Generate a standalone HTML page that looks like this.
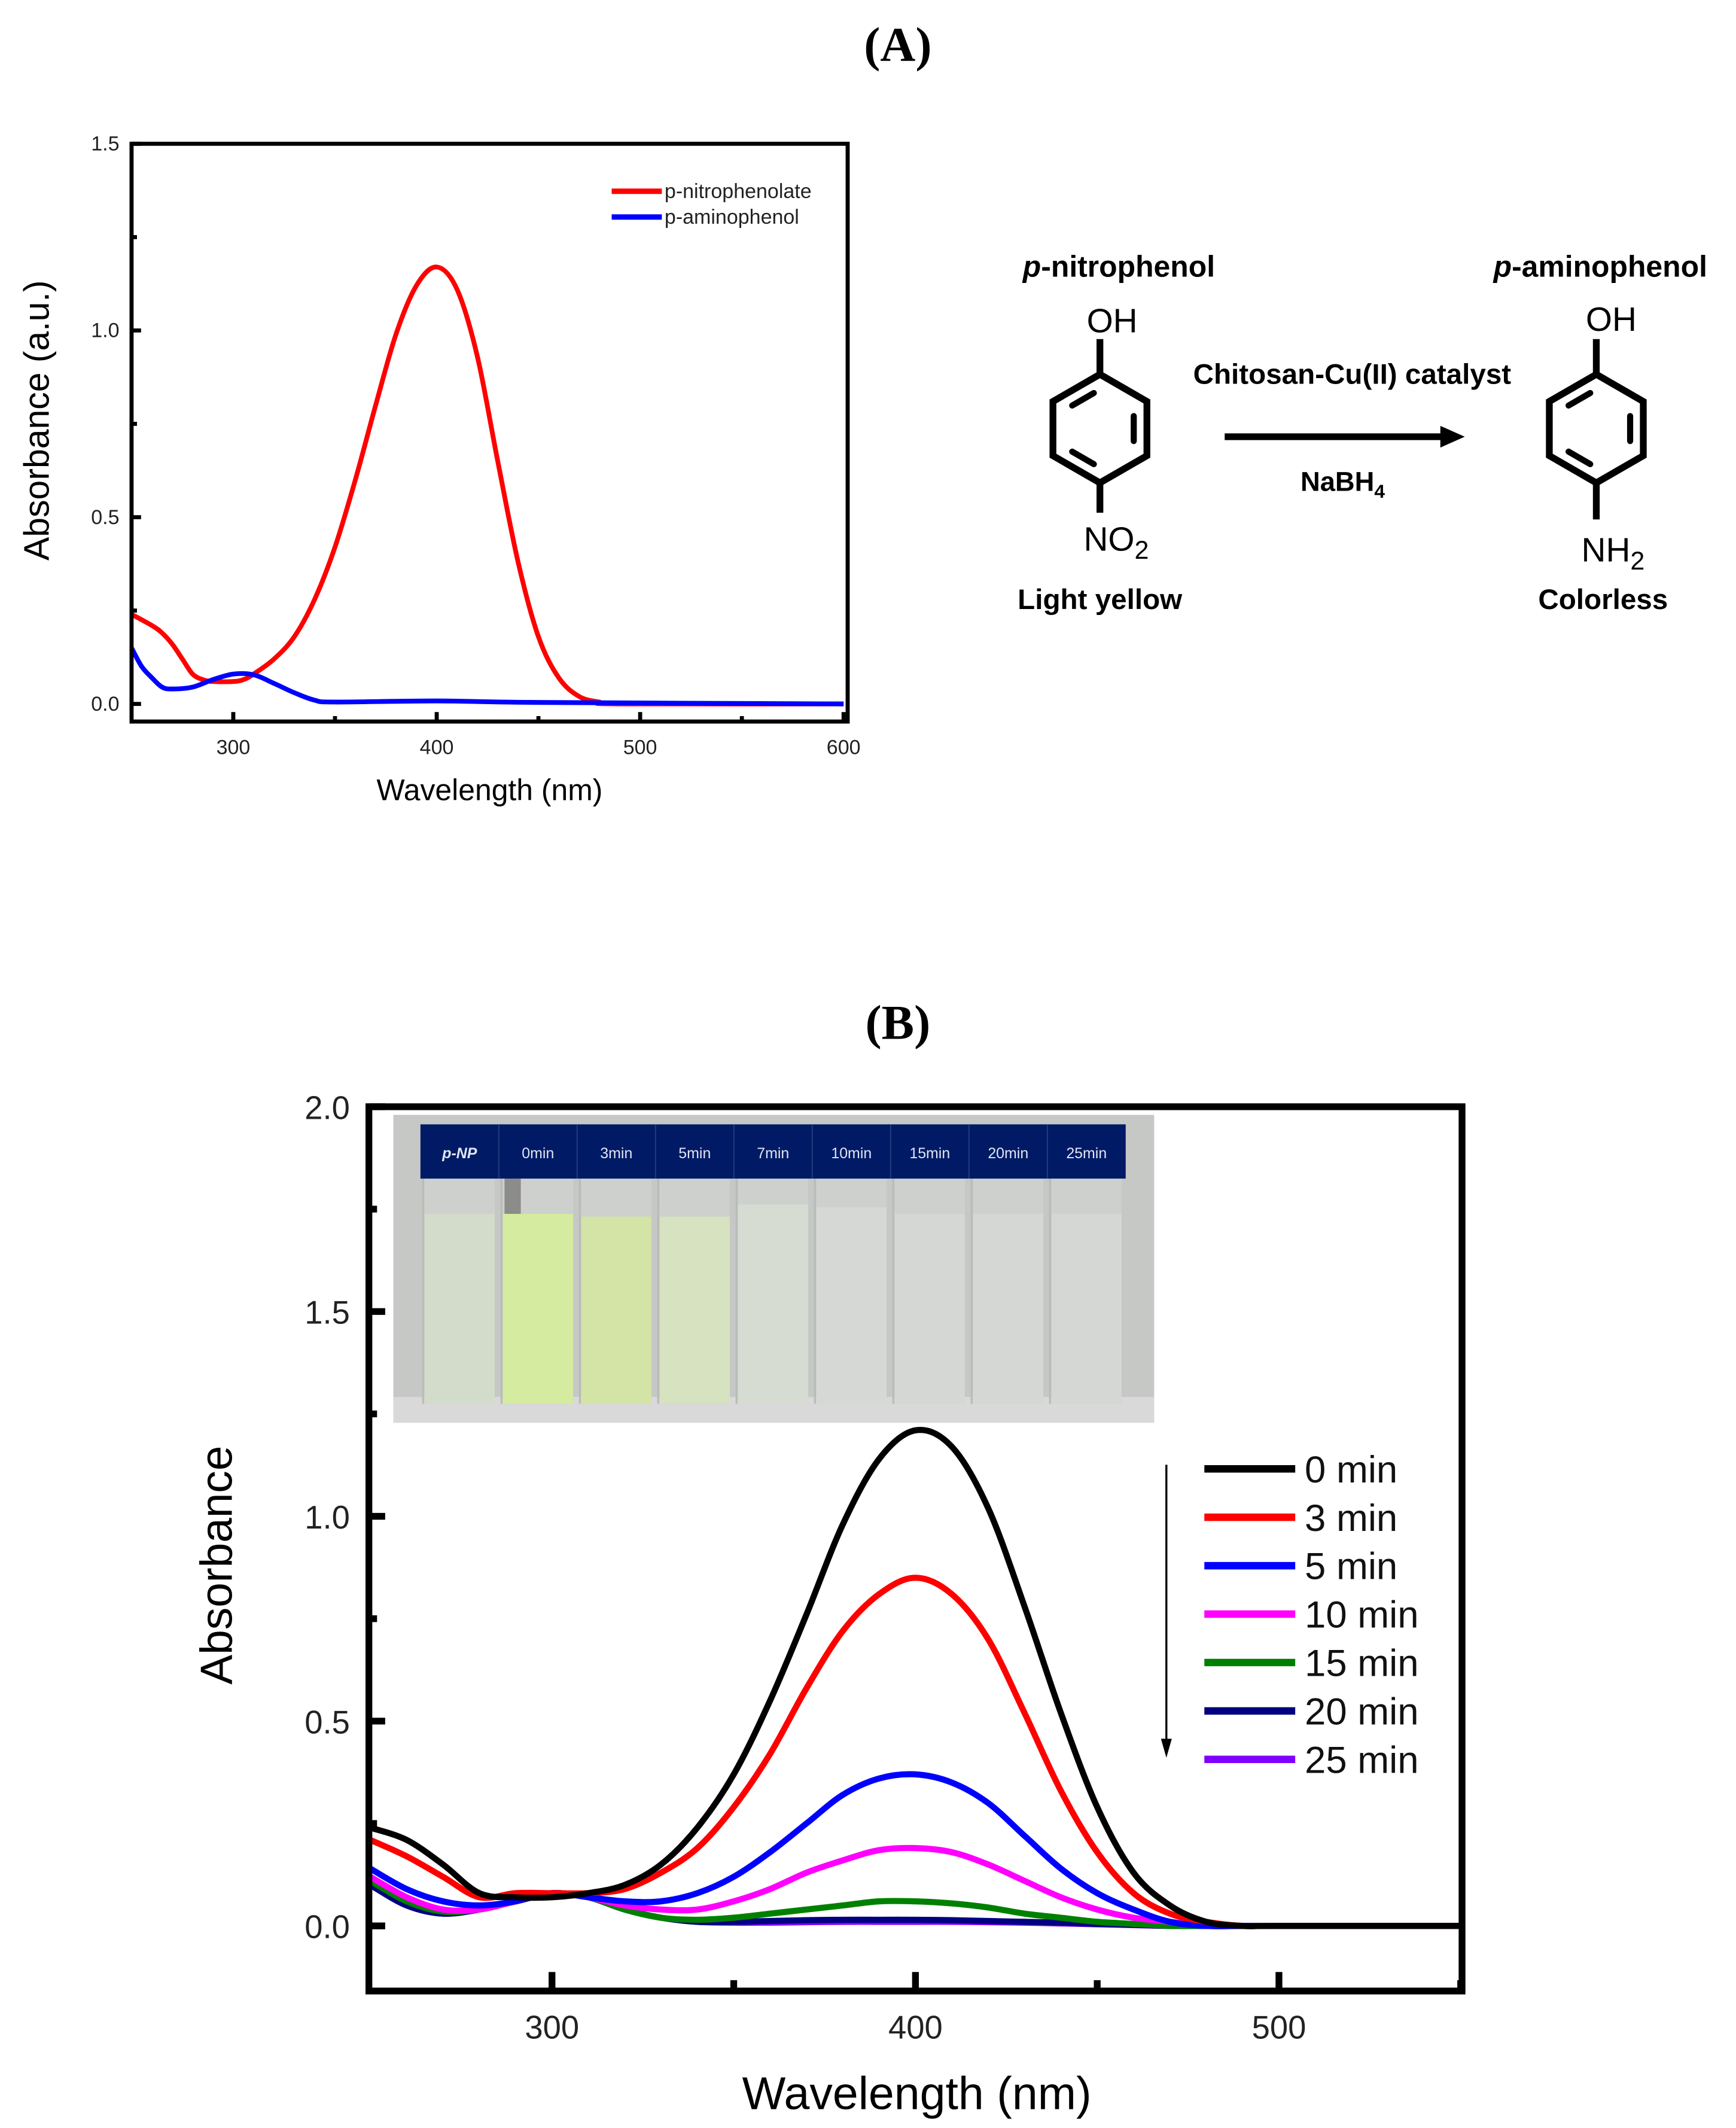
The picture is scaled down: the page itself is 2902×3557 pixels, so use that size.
<!DOCTYPE html>
<html><head><meta charset="utf-8"><style>
html,body{margin:0;padding:0;background:#fff}
svg{display:block}
text{font-family:"Liberation Sans",Arial,sans-serif}
.serif{font-family:"Liberation Serif","Times New Roman",serif}
</style></head><body>
<svg id="fig" xmlns="http://www.w3.org/2000/svg" width="2902" height="3557" viewBox="0 0 1280 1569" preserveAspectRatio="none">
<rect width="1280" height="1569" fill="#fff"/>
<text class="serif" x="662" y="45" font-size="36" font-weight="bold" text-anchor="middle">(A)</text>
<text class="serif" x="662" y="766" font-size="36" font-weight="bold" text-anchor="middle">(B)</text>
<g id="chartA"></g>
<g id="chartB"></g>

<g fill="#000">
  <text x="825" y="204" font-size="22" font-weight="bold" text-anchor="middle"><tspan font-style="italic">p</tspan>-nitrophenol</text>
  <text x="1180" y="204" font-size="22" font-weight="bold" text-anchor="middle"><tspan font-style="italic">p</tspan>-aminophenol</text>
  <text x="820" y="245" font-size="25" text-anchor="middle">OH</text>
  <text x="1188" y="244" font-size="25" text-anchor="middle">OH</text>
  <text x="799" y="406" font-size="25">NO<tspan font-size="19" dy="6">2</tspan></text>
  <text x="1166" y="414" font-size="25">NH<tspan font-size="19" dy="6">2</tspan></text>
  <text x="811" y="449" font-size="21" font-weight="bold" text-anchor="middle">Light yellow</text>
  <text x="1182" y="449" font-size="21" font-weight="bold" text-anchor="middle">Colorless</text>
  <text x="997" y="283" font-size="21" font-weight="bold" text-anchor="middle">Chitosan-Cu(II) catalyst</text>
  <text x="990" y="362" font-size="20" font-weight="bold" text-anchor="middle">NaBH<tspan font-size="14" dy="5">4</tspan></text>
  <line x1="903" y1="322" x2="1065" y2="322" stroke="#000" stroke-width="5"/>
  <polygon points="1062,314 1080,322 1062,330"/>
  <g id="hex1"></g>
  <g id="hex2"></g>
</g>

<g id="photo"></g>
</svg>
<script>
var NS="http://www.w3.org/2000/svg";
function mk(tag,attrs,parent){var e=document.createElementNS(NS,tag);for(var k in attrs)e.setAttribute(k,attrs[k]);parent.appendChild(e);return e;}

// ---------- Chart A data ----------
var aWaveRed=[250,260,265,270,275,280,285,290,300,305,310,320,330,340,350,360,370,380,390,400,410,420,430,440,450,460,470,480,490,600];
var aRed=[0.24,0.21,0.19,0.16,0.12,0.08,0.065,0.06,0.06,0.065,0.08,0.12,0.18,0.28,0.42,0.60,0.80,0.99,1.12,1.17,1.11,0.93,0.65,0.38,0.18,0.07,0.02,0.005,0,0];
var aWaveBlue=[250,255,260,265,270,280,290,300,310,320,330,340,350,400,450,600];
var aBlue=[0.15,0.10,0.07,0.045,0.04,0.045,0.065,0.08,0.078,0.055,0.03,0.01,0.005,0.008,0.004,0];
var aXTicks=[300,400,500,600];
var aYTicks=[0.0,0.5,1.0,1.5];
var aLegend=["p-nitrophenolate","p-aminophenol"];

// ---------- Chart B data ----------
var bWave=[250,260,270,280,290,300,310,320,330,340,350,360,370,380,390,400,410,420,430,440,450,460,470,480,490,500,550];
var b0=[0.24,0.21,0.15,0.08,0.07,0.07,0.08,0.10,0.15,0.24,0.37,0.55,0.76,0.98,1.14,1.21,1.17,1.02,0.78,0.52,0.29,0.13,0.05,0.01,0,0,0];
var b3=[0.21,0.17,0.12,0.07,0.08,0.08,0.08,0.09,0.13,0.19,0.29,0.42,0.58,0.72,0.81,0.85,0.81,0.70,0.52,0.33,0.18,0.08,0.03,0.01,0,0,0];
var b5=[0.14,0.09,0.06,0.05,0.06,0.08,0.07,0.06,0.06,0.08,0.12,0.18,0.25,0.32,0.36,0.37,0.35,0.30,0.22,0.14,0.08,0.04,0.01,0,0,0,0];
var b10=[0.12,0.07,0.04,0.04,0.06,0.08,0.07,0.05,0.04,0.04,0.06,0.09,0.13,0.16,0.185,0.19,0.18,0.15,0.11,0.07,0.04,0.02,0.01,0,0,0,0];
var b15=[0.11,0.06,0.035,0.04,0.06,0.08,0.07,0.04,0.02,0.015,0.02,0.03,0.04,0.05,0.06,0.06,0.055,0.045,0.03,0.02,0.01,0.005,0,0,0,0,0];
var b20=[0.10,0.05,0.03,0.04,0.06,0.08,0.07,0.04,0.02,0.01,0.01,0.012,0.014,0.015,0.015,0.015,0.014,0.012,0.01,0.008,0.005,0.003,0,0,0,0,0];
var b25=[0.10,0.05,0.03,0.04,0.06,0.08,0.07,0.04,0.02,0.01,0.008,0.008,0.009,0.01,0.01,0.01,0.01,0.009,0.008,0.006,0.004,0.002,0,0,0,0,0];
var bLabels=["0 min","3 min","5 min","10 min","15 min","20 min","25 min"];
var bXTicks=[300,400,500];
var bYTicks=["0.0","0.5","1.0","1.5","2.0"];
var photoLabels=["p-NP","0min","3min","5min","7min","10min","15min","20min","25min"];

function smoothPath(xs,ys){
  var d="M"+xs[0].toFixed(2)+","+ys[0].toFixed(2);
  for(var i=0;i<xs.length-1;i++){
    var x0=xs[i-1<0?0:i-1],y0=ys[i-1<0?0:i-1],x1=xs[i],y1=ys[i],x2=xs[i+1],y2=ys[i+1];
    var x3=xs[i+2>=xs.length?i+1:i+2],y3=ys[i+2>=xs.length?i+1:i+2];
    var c1x=x1+(x2-x0)/6,c1y=y1+(y2-y0)/6,c2x=x2-(x3-x1)/6,c2y=y2-(y3-y1)/6;
    d+=" C"+c1x.toFixed(2)+","+c1y.toFixed(2)+" "+c2x.toFixed(2)+","+c2y.toFixed(2)+" "+x2.toFixed(2)+","+y2.toFixed(2);
  }
  return d;
}

// ---------- Chart A ----------
(function(){
  var g=document.getElementById('chartA');
  var L=97,R=625,T=106,B=532;
  function X(v){return 97+(v-250)*1.5;}
  function Y(v){return 519-v*(413/1.5);}
  var clip=mk('clipPath',{id:'clipA'},g);mk('rect',{x:L,y:T,width:R-L,height:B-T},clip);
  var c=mk('path',{d:smoothPath(aWaveRed.map(X),aRed.map(Y)),fill:'none',stroke:'#ff0000','stroke-width':3.5,'clip-path':'url(#clipA)'},g);
  
  
  c=mk('path',{d:smoothPath(aWaveBlue.map(X),aBlue.map(Y)),fill:'none',stroke:'#0000ff','stroke-width':3.5,'clip-path':'url(#clipA)'},g);
  
  
  var f=mk('rect',{x:L,y:T,width:R-L,height:B-T,fill:'none',stroke:'#000','stroke-width':3},g);
  
  
  for(var v=300;v<=600;v+=50){mk('line',{x1:X(v),x2:X(v),y1:B,y2:B-(v%100?4:7),stroke:'#000','stroke-width':3},g);}
  for(var y=0;y<=1.5;y+=0.25){mk('line',{x1:L,x2:L+(Math.round(y*100)%50?4:7),y1:Y(y),y2:Y(y),stroke:'#000','stroke-width':3},g);}
  aXTicks.forEach(function(v){var t=mk('text',{x:X(v),y:556,'font-size':15,'text-anchor':'middle',fill:'#222'},g);t.textContent=v;
    
    });
  aYTicks.forEach(function(v){var t=mk('text',{x:88,y:Y(v)+5,'font-size':15,'text-anchor':'end',fill:'#222'},g);t.textContent=v.toFixed(1);
    
    });
  var t=mk('text',{x:361,y:590,'font-size':22,'text-anchor':'middle'},g);t.textContent="Wavelength (nm)";
  
  
  t=mk('text',{x:0,y:0,'font-size':26,'text-anchor':'middle',transform:'translate(36,310) rotate(-90)'},g);t.textContent="Absorbance (a.u.)";
  
  
  var cols=['#ff0000','#0000ff'];
  aLegend.forEach(function(s,i){
    var ly=141+i*19;
    var l=mk('line',{x1:451,x2:488,y1:ly,y2:ly,stroke:cols[i],'stroke-width':4},g);
    
    
    var tt=mk('text',{x:490,y:ly+5,'font-size':15,fill:'#222'},g);tt.textContent=s;
    
    
  });
})();

// ---------- Benzene rings ----------
function hex(id,cx,cy,r,topY,botY){
  var g=document.getElementById(id),pts=[];
  for(var i=0;i<6;i++){var a=-Math.PI/2+i*Math.PI/3;pts.push([cx+r*Math.cos(a),cy+r*Math.sin(a)]);}
  mk('polygon',{points:pts.map(function(p){return p.join(',');}).join(' '),fill:'none',stroke:'#000','stroke-width':5,'stroke-linejoin':'miter'},g);
  [[5,0],[1,2],[3,4]].forEach(function(e){
    var a=pts[e[0]],b=pts[e[1]],k=0.72;
    var ax=cx+(a[0]-cx)*k,ay=cy+(a[1]-cy)*k,bx=cx+(b[0]-cx)*k,by=cy+(b[1]-cy)*k;
    var sx=ax+(bx-ax)*0.18,sy=ay+(by-ay)*0.18,ex=ax+(bx-ax)*0.82,ey=ay+(by-ay)*0.82;
    mk('line',{x1:sx,y1:sy,x2:ex,y2:ey,stroke:'#000','stroke-width':4.5,'stroke-linecap':'round'},g);
  });
  mk('line',{x1:cx,y1:cy-r,x2:cx,y2:topY,stroke:'#000','stroke-width':5},g);
  mk('line',{x1:cx,y1:cy+r,x2:cx,y2:botY,stroke:'#000','stroke-width':5},g);
}
hex('hex1',811,316,40,250,378);
hex('hex2',1177,316,40,250,383);

// ---------- Chart B ----------
(function(){
  var g=document.getElementById('chartB');
  var L=272,R=1078,T=816,B=1468;
  function X(v){return 273+(v-250)*2.68;}
  function Y(v){return 1420-v*302;}
  var clip=mk('clipPath',{id:'clipB'},g);mk('rect',{x:L,y:T,width:R-L,height:B-T},clip);
  var series=[b0,b3,b5,b10,b15,b20,b25];
  var cols=['#000000','#ff0000','#0000ff','#ff00ff','#008000','#000080','#8000ff'];
  for(var i=series.length-1;i>=0;i--){
    var p=mk('path',{d:smoothPath(bWave.map(X),series[i].map(Y)),fill:'none',stroke:cols[i],'stroke-width':4.5,'clip-path':'url(#clipB)'},g);
    
    
  }
  var f=mk('rect',{x:L,y:T,width:R-L,height:B-T,fill:'none',stroke:'#000','stroke-width':5},g);
  
  
  for(var v=300;v<=550;v+=50){mk('line',{x1:X(v),x2:X(v),y1:B,y2:B-(v%100?8:14),stroke:'#000','stroke-width':5},g);}
  for(var y=0;y<=2;y+=0.25){mk('line',{x1:L,x2:L+(Math.round(y*100)%50?6:12),y1:Y(y),y2:Y(y),stroke:'#000','stroke-width':5},g);}
  bXTicks.forEach(function(v){var t=mk('text',{x:X(v),y:1503,'font-size':24,'text-anchor':'middle',fill:'#222'},g);t.textContent=v;
    
    });
  bYTicks.forEach(function(v){var t=mk('text',{x:258,y:Y(parseFloat(v))+9,'font-size':24,'text-anchor':'end',fill:'#222'},g);t.textContent=v;
    
    });
  var t=mk('text',{x:676,y:1555,'font-size':34,'text-anchor':'middle'},g);t.textContent="Wavelength (nm)";
  
  
  t=mk('text',{x:0,y:0,'font-size':33,'text-anchor':'middle',transform:'translate(171,1154) rotate(-90)'},g);t.textContent="Absorbance";
  
  
  bLabels.forEach(function(s,i){
    var ly=1083+i*35.7;
    var l=mk('line',{x1:888,x2:955,y1:ly,y2:ly,stroke:cols[i],'stroke-width':5.5},g);
    
    
    var tt=mk('text',{x:962,y:ly+10,'font-size':28,fill:'#111'},g);tt.textContent=s;
    
    
  });
  var a=mk('line',{x1:860,y1:1080,x2:860,y2:1285,stroke:'#000','stroke-width':1.5},g);
  
  
  mk('polygon',{points:'856,1282 864,1282 860,1296',fill:'#000'},g);
})();

// ---------- Inset photo ----------
(function(){
  var g=document.getElementById('photo');
  mk('rect',{x:290,y:822,width:561,height:227,fill:'#c6c8c6'},g);
  mk('rect',{x:290,y:1030,width:561,height:19,fill:'#d8d9d8'},g);
  var liquid=['#d3dccb','#d4eba0','#d3e4a6','#d6e2c0','#d6dcd2','#d5d8d5','#d5d7d5','#d4d7d4','#d4d7d4'];
  var lt=[895,895,897,897,888,890,895,895,895];
  var cw=(830-310)/9;
  for(var i=0;i<9;i++){
    var x=310+i*cw;
    mk('rect',{x:x+3,y:869,width:cw-6,height:166,fill:'#cdd0cd'},g);
    mk('rect',{x:x+3,y:lt[i],width:cw-6,height:1035-lt[i],fill:liquid[i]},g);
    mk('line',{x1:x+2,x2:x+2,y1:869,y2:1035,stroke:'#b9bcb9','stroke-width':1.5},g);
  }
  mk('rect',{x:372,y:869,width:12,height:26,fill:'#8c8c8a'},g);
  mk('rect',{x:310,y:829,width:520,height:40,fill:'#001a66'},g);
  photoLabels.forEach(function(s,i){
    var t=mk('text',{x:310+(i+0.5)*cw,y:854,'font-size':11,'text-anchor':'middle',fill:'#dfe6f5','font-style':i==0?'italic':'normal','font-weight':i==0?'bold':'normal'},g);
    t.textContent=s;
    
    
    if(i>0){mk('line',{x1:310+i*cw,x2:310+i*cw,y1:829,y2:869,stroke:'#24407f','stroke-width':0.8},g);}
  });
})();
</script>
</body></html>
